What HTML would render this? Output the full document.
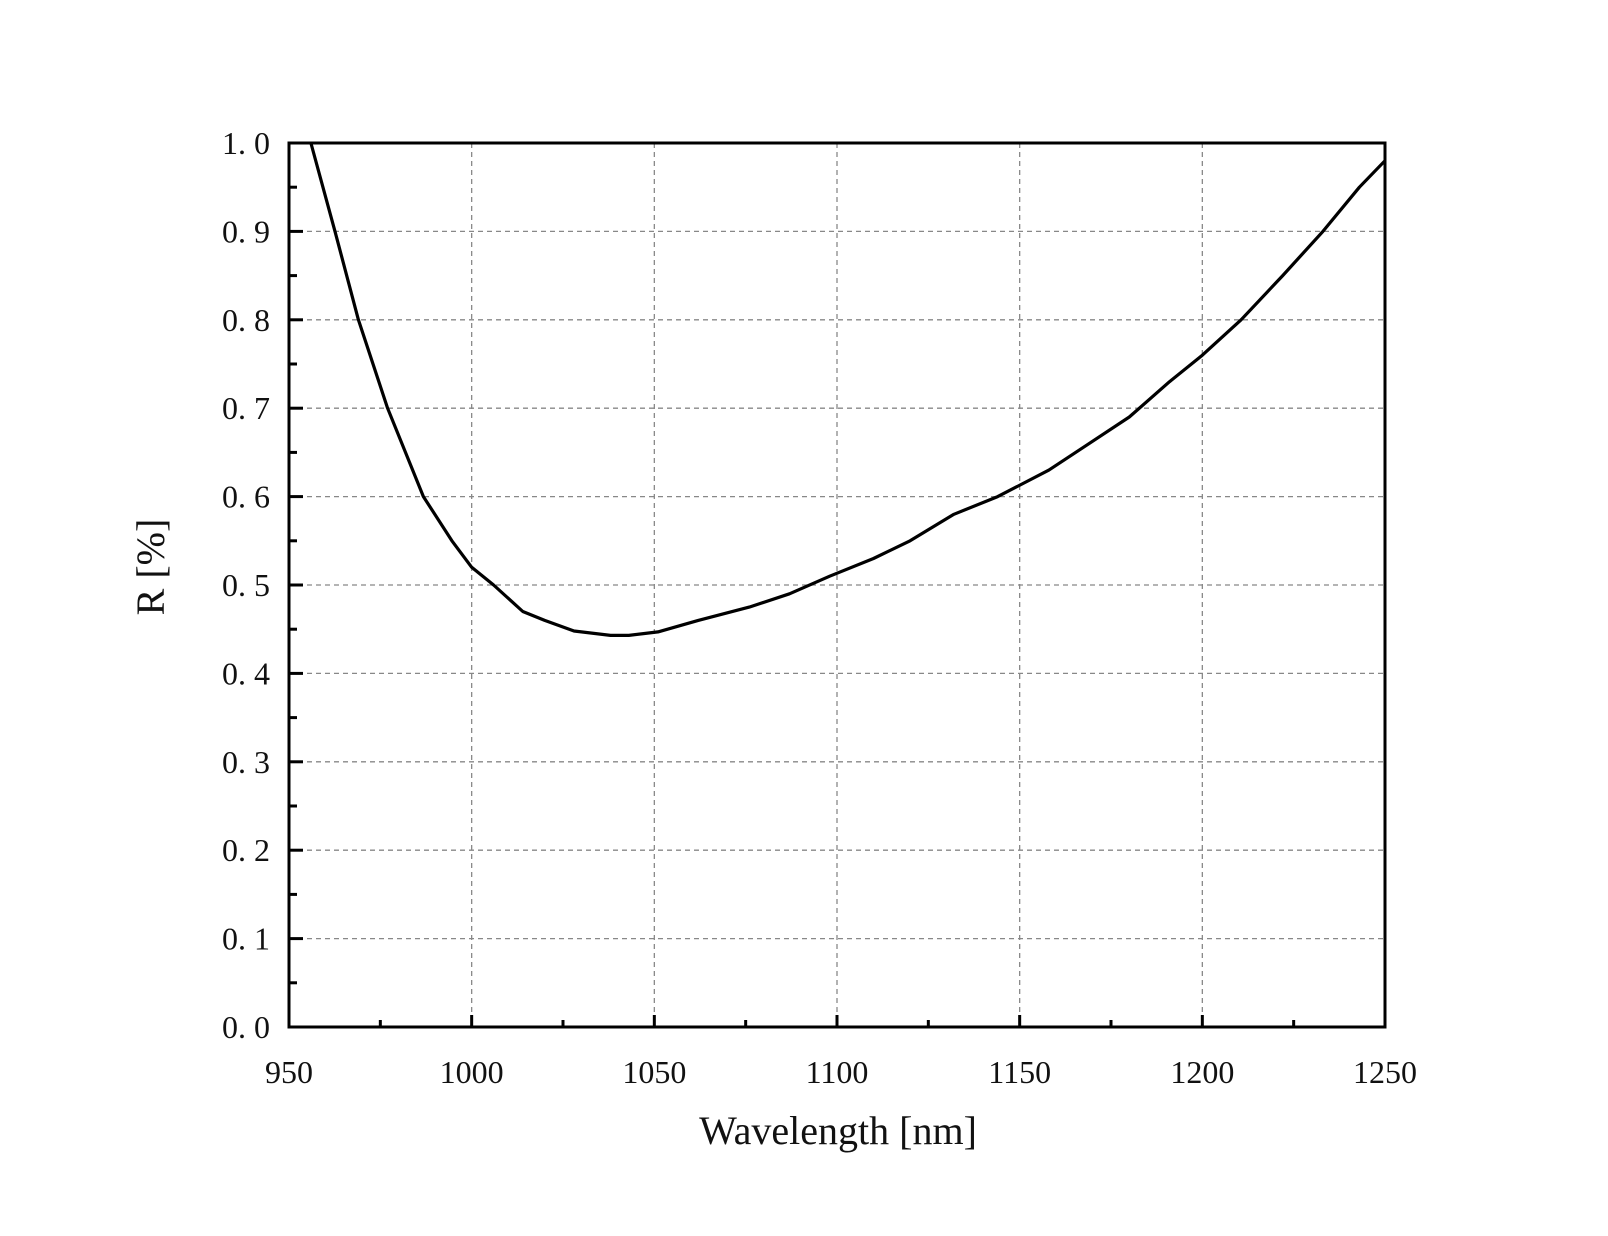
<!DOCTYPE html>
<html><head><meta charset="utf-8"><style>
html,body{margin:0;padding:0;background:#fff;}
svg text{font-family:"Liberation Serif","Noto Serif CJK SC",serif;fill:#111;}
</style></head><body>
<svg id="chart" width="1608" height="1231" viewBox="0 0 1608 1231" xmlns="http://www.w3.org/2000/svg">
<g id="grid"></g>
<g id="ticks"></g>
<path id="curve" fill="none" stroke="#000" stroke-width="3.2" stroke-linejoin="round"/>
<rect x="289" y="143" width="1096" height="884" fill="none" stroke="#000" stroke-width="3"/>
<text x="838" y="1144" font-size="40" text-anchor="middle">Wavelength [nm]</text>
<text x="0" y="0" font-size="40" text-anchor="middle" transform="translate(164,567) rotate(-90)">R [%]</text>
</svg>
<script>
const wavelengths=[956,962.6,969,977,986.8,994.6,1000,1006,1014,1020,1028,1038,1043,1051,1062,1076,1087,1098,1110,1120,1132,1144,1158,1169,1180,1191,1200,1210.6,1222,1233,1243,1250];
const reflectance=[1.0,0.9,0.8,0.7,0.6,0.55,0.52,0.5,0.47,0.46,0.448,0.443,0.443,0.447,0.46,0.475,0.49,0.51,0.53,0.55,0.58,0.60,0.63,0.66,0.69,0.73,0.76,0.80,0.85,0.90,0.95,0.98];
const xTicks=[950,1000,1050,1100,1150,1200,1250];
const yTicks=[0,0.1,0.2,0.3,0.4,0.5,0.6,0.7,0.8,0.9,1.0];
const L=289,R=1385,T=143,B=1027;
const sx=v=>L+(v-950)/300*(R-L);
const sy=v=>B-v*(B-T);
const NS="http://www.w3.org/2000/svg";
const grid=document.getElementById('grid'),ticks=document.getElementById('ticks');
function mk(tag,attrs,parent){const e=document.createElementNS(NS,tag);for(const k in attrs)e.setAttribute(k,attrs[k]);parent.appendChild(e);return e;}
xTicks.forEach((t,i)=>{
  const x=sx(t);
  if(i>0&&i<xTicks.length-1){const g=mk('line',{x1:x,x2:x,y1:T,y2:B,stroke:'#888','stroke-width':1.3,'stroke-dasharray':'5,4'},grid);
  
  }
  const tk=mk('line',{x1:x,x2:x,y1:B,y2:B-12,stroke:'#000','stroke-width':3},ticks);
  
  
  if(i<xTicks.length-1){const m=mk('line',{x1:sx(t+25),x2:sx(t+25),y1:B,y2:B-7,stroke:'#000','stroke-width':3},ticks);
  
  }
  const lb=mk('text',{x:x,y:1083,'font-size':32,'text-anchor':'middle'},ticks);lb.textContent=t;
  
  
});
yTicks.forEach((t,i)=>{
  const y=sy(t);
  if(i>0&&i<yTicks.length-1){const g=mk('line',{x1:L,x2:R,y1:y,y2:y,stroke:'#888','stroke-width':1.3,'stroke-dasharray':'5,4'},grid);
  
  }
  const tk=mk('line',{x1:L,x2:L+14,y1:y,y2:y,stroke:'#000','stroke-width':3},ticks);
  
  
  if(i<yTicks.length-1){const m=mk('line',{x1:L,x2:L+8,y1:sy(t+0.05),y2:sy(t+0.05),stroke:'#000','stroke-width':3},ticks);
  
  }
  const lb=mk('text',{x:270,y:y+11,'font-size':32,'text-anchor':'end'},ticks);lb.textContent=t.toFixed(1).replace('.','. ');
  
  
});
document.getElementById('curve').setAttribute('d',wavelengths.map((w,i)=>(i?'L':'M')+sx(w).toFixed(1)+','+sy(reflectance[i]).toFixed(1)).join(' '));
</script>
</body></html>
